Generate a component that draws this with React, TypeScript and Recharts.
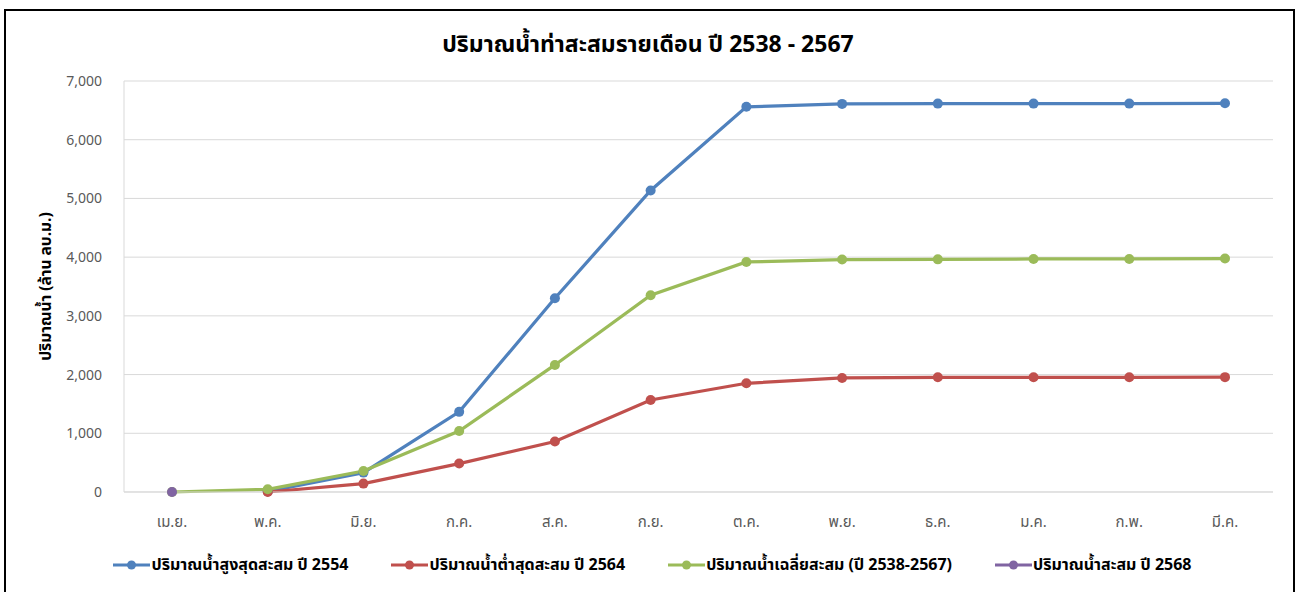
import React from 'react';
import { LineChart, Line, XAxis, YAxis, CartesianGrid, Legend } from 'recharts';

const months = ['เม.ย.', 'พ.ค.', 'มิ.ย.', 'ก.ค.', 'ส.ค.', 'ก.ย.', 'ต.ค.', 'พ.ย.', 'ธ.ค.', 'ม.ค.', 'ก.พ.', 'มี.ค.'];
const max2554: (number | null)[] = [null, 10, 330, 1365, 3300, 5135, 6560, 6610, 6615, 6615, 6615, 6620];
const min2564: (number | null)[] = [null, 0, 143, 484, 860, 1567, 1852, 1942, 1954, 1954, 1954, 1956];
const avg2538_2567: (number | null)[] = [0, 46, 358, 1039, 2164, 3351, 3918, 3959, 3962, 3969, 3969, 3976];
const year2568: (number | null)[] = [0, null, null, null, null, null, null, null, null, null, null, null];
const yTicks = [0, 1000, 2000, 3000, 4000, 5000, 6000, 7000];

const seriesInfo = [
  { key: 'max', name: 'ปริมาณน้ำสูงสุดสะสม ปี 2554', color: '#4F81BD' },
  { key: 'min', name: 'ปริมาณน้ำต่ำสุดสะสม ปี 2564', color: '#C0504D' },
  { key: 'avg', name: 'ปริมาณน้ำเฉลี่ยสะสม (ปี 2538-2567)', color: '#9BBB59' },
  { key: 'y68', name: 'ปริมาณน้ำสะสม ปี 2568', color: '#8064A2' },
];

const data = months.map((m, i) => ({
  month: m,
  max: max2554[i],
  min: min2564[i],
  avg: avg2538_2567[i],
  y68: year2568[i],
}));

const FONT = "Tahoma, 'Noto Sans Thai', 'Noto Sans', 'DejaVu Sans', sans-serif";

const LegendContent = () => (
  <div style={{ display: 'flex', justifyContent: 'center', gap: 43, height: 20, alignItems: 'center', paddingLeft: 32, fontFamily: FONT, fontSize: 16, fontWeight: 'bold', color: '#000' }}>
    {seriesInfo.map((s) => (
      <div key={s.key} style={{ display: 'flex', alignItems: 'center' }}>
        <svg width={37} height={12} style={{ marginRight: 1 }}>
          <line x1={0} y1={6} x2={37} y2={6} stroke={s.color} strokeWidth={3} />
          <circle cx={18.5} cy={6} r={4.5} fill={s.color} />
        </svg>
        <span>{s.name}</span>
      </div>
    ))}
  </div>
);

export default function App() {
  return (
    <div style={{ position: 'absolute', left: 0, top: 0, width: 1296, height: 592, background: '#fff', overflow: 'hidden', fontFamily: FONT }}>
      <div style={{ position: 'absolute', left: 4, top: 9, width: 1291, height: 620, border: '2px solid #000', boxSizing: 'border-box' }} />
      <div style={{ position: 'absolute', left: 0, top: 28, width: 1296, textAlign: 'center', fontSize: 23, fontWeight: 'bold', color: '#000' }}>
        ปริมาณน้ำท่าสะสมรายเดือน ปี 2538 - 2567
      </div>
      <div style={{ position: 'absolute', left: 0, top: 0 }}>
        <LineChart width={1296} height={592} data={data} margin={{ top: 81, right: 23, left: 0, bottom: 17 }}>
          <CartesianGrid vertical={false} stroke="#D9D9D9" yAxisId="l" />
          <XAxis
            dataKey="month"
            height={63}
            padding={{ left: 48, right: 48 }}
            tickLine={false}
            tickSize={0}
            tickMargin={24}
            axisLine={{ stroke: '#D9D9D9' }}
            tick={{ fill: '#595959', fontSize: 15, fontFamily: FONT }}
            interval={0}
          />
          <YAxis
            yAxisId="l"
            width={124}
            domain={[0, 7000]}
            ticks={yTicks}
            tickLine={false}
            tickSize={0}
            tickMargin={22}
            axisLine={{ stroke: '#D9D9D9' }}
            tickFormatter={(v: number) => v.toLocaleString('en-US')}
            tick={{ fill: '#595959', fontSize: 14, fontFamily: FONT }}
            label={{ value: 'ปริมาณน้ำ (ล้าน ลบ.ม.)', angle: -90, position: 'center', dx: -17, style: { fontSize: 15.5, fontWeight: 'bold', fill: '#000', fontFamily: FONT, textAnchor: 'middle' } }}
          />
          <YAxis yAxisId="r" orientation="right" width={0} domain={[0, 7000]} tick={false} tickLine={false} axisLine={{ stroke: '#D9D9D9' }} />
          <Legend verticalAlign="bottom" content={<LegendContent />} />
          {seriesInfo.map((s) => (
            <Line
              key={s.key}
              yAxisId="l"
              type="linear"
              dataKey={s.key}
              name={s.name}
              stroke={s.color}
              strokeWidth={3.25}
              dot={{ r: 5, fill: s.color, stroke: s.color, strokeWidth: 0 }}
              activeDot={false}
              connectNulls={false}
              isAnimationActive={false}
            />
          ))}
        </LineChart>
      </div>
    </div>
  );
}
